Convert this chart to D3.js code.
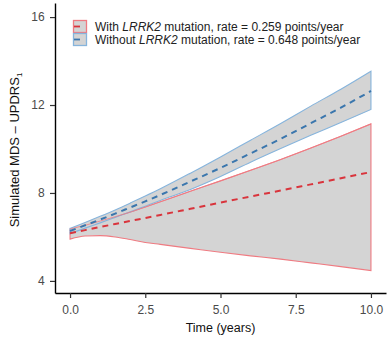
<!DOCTYPE html>
<html><head><meta charset="utf-8">
<script src="https://cdn.jsdelivr.net/npm/d3@7"></script>
<style>body{margin:0;background:#fff}svg{display:block}text{font-family:"Liberation Sans",Arial,sans-serif}</style>
</head><body><svg id="c" width="387" height="338"></svg>
<script>
const times = [0,0.5,1,1.5,2,2.5,3,4,5,6,7,8,9,10];
const withMean  = [6.17,6.31,6.45,6.59,6.73,6.86,7.00,7.28,7.56,7.84,8.11,8.39,8.67,8.95];
const withUpper = [6.36,6.53,6.72,6.92,7.13,7.36,7.60,8.08,8.55,9.03,9.52,10.04,10.58,11.14];
const withLower = [5.90,6.04,6.06,6.00,5.88,5.75,5.66,5.48,5.30,5.14,4.99,4.82,4.65,4.47];
const withoutMean  = [6.27,6.53,6.79,7.06,7.34,7.62,7.91,8.52,9.14,9.80,10.46,11.17,11.88,12.64];
const withoutUpper = [6.39,6.66,6.94,7.23,7.54,7.86,8.19,8.90,9.64,10.40,11.16,11.95,12.72,13.54];
const withoutLower = [6.15,6.40,6.64,6.89,7.14,7.40,7.66,8.16,8.75,9.40,10.02,10.62,11.20,11.80];
const xTicks = [0,2.5,5,7.5,10];
const yTicks = [4,8,12,16];
const legendLabels = [
  {pre:"With ", it:"LRRK2", post:" mutation, rate = 0.259 points/year"},
  {pre:"Without ", it:"LRRK2", post:" mutation, rate = 0.648 points/year"}
];

const svg = d3.select("#c");
const x = d3.scaleLinear().domain([-0.5,10.5]).range([55,386]);
const y = d3.scaleLinear().domain([3.45,16.64]).range([293,3]);

const redLine="#d9343c", redEdge="#ef7b82", blueLine="#3a76ad", blueEdge="#86b4dc", fillG="#d4d4d4";

const area = d3.area().x((d,i)=>x(times[i])).y0(d=>y(d[0])).y1(d=>y(d[1])).curve(d3.curveMonotoneX);
function bandData(lo,hi){ return lo.map((v,i)=>[v,hi[i]]); }
const line = d3.line().x((d,i)=>x(times[i])).y(d=>y(d)).curve(d3.curveMonotoneX);

svg.append("path").attr("d",area(bandData(withLower,withUpper))+"Z").attr("fill",fillG).attr("stroke",redEdge).attr("stroke-width",1.1);
svg.append("path").attr("d",area(bandData(withoutLower,withoutUpper))+"Z").attr("fill",fillG).attr("stroke",blueEdge).attr("stroke-width",1.1);
svg.append("path").attr("d",line(withUpper)).attr("fill","none").attr("stroke",redEdge).attr("stroke-width",1).attr("opacity",0.8);
svg.append("path").attr("d",line(withMean)).attr("fill","none").attr("stroke",redLine).attr("stroke-width",2).attr("stroke-dasharray","6,5");
svg.append("path").attr("d",line(withoutMean)).attr("fill","none").attr("stroke",blueLine).attr("stroke-width",2).attr("stroke-dasharray","6,5");

const ax = svg.append("g").attr("transform","translate(0,293)").call(d3.axisBottom(x).tickValues(xTicks).tickFormat(d3.format(".1f")).tickSize(5).tickSizeOuter(0));
const ay = svg.append("g").attr("transform","translate(55,0)").call(d3.axisLeft(y).tickValues(yTicks).tickFormat(d3.format("d")).tickSize(5).tickSizeOuter(0));
[ax,ay].forEach(a=>{
  a.select(".domain").attr("stroke","#000").attr("stroke-width",1.4);
  a.selectAll(".tick line").attr("stroke","#333").attr("stroke-width",1.2);
  a.selectAll(".tick text").attr("fill","#4a4a4a").style("font-size","12px").style("font-family","Liberation Sans, Arial, sans-serif");
});
ax.selectAll(".tick text").attr("dy","1.1em");
ay.selectAll(".tick text").attr("dx","-0.2em");

svg.append("text").attr("x",x(5)).attr("y",332).attr("text-anchor","middle").attr("fill","#111").style("font-size","12.5px").text("Time (years)");
const yt = svg.append("text").attr("transform","translate(19,150) rotate(-90)").attr("text-anchor","middle").attr("fill","#111").style("font-size","13px");
yt.append("tspan").text("Simulated MDS \u2013 UPDRS");
yt.append("tspan").attr("dy","3").style("font-size","8px").text("1");

const lg = svg.append("g");
const cols=[[redEdge,redLine],[blueEdge,blueLine]];
legendLabels.forEach((L,i)=>{
  const yy = 20 + i*13;
  lg.append("rect").attr("x",73.5).attr("y",yy+0.5).attr("width",13).attr("height",12).attr("fill",fillG).attr("stroke",cols[i][0]).attr("stroke-width",1.3);
  lg.append("line").attr("x1",74).attr("x2",80).attr("y1",yy+6.5).attr("y2",yy+6.5).attr("stroke",cols[i][1]).attr("stroke-width",1.8);
  const t = lg.append("text").attr("x",95).attr("y",yy+10.5).attr("fill","#222").style("font-size","12px");
  t.append("tspan").text(L.pre);
  t.append("tspan").style("font-style","italic").text(L.it);
  t.append("tspan").text(L.post);
});
</script></body></html>
